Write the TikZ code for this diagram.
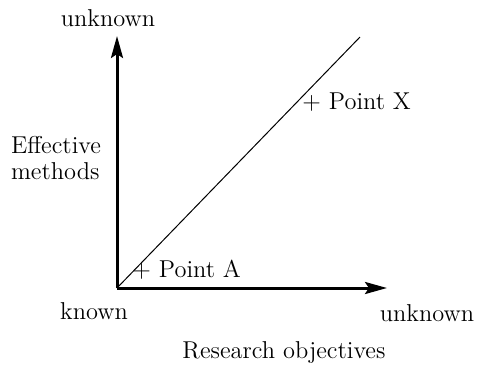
\documentclass[tikz,border=0pt]{standalone}
\usetikzlibrary{arrows.meta}
\begin{document}
\begin{tikzpicture}[x=0.5pt,y=-0.5pt,
  axis/.style={line width=1.5pt,-{Stealth[length=11pt,width=6pt,inset=2pt]}},
  lbl/.style={font=\fontsize{12.2}{13.2}\selectfont,inner sep=0pt},
  diag/.style={line width=0.5pt}]
\useasboundingbox (0,0) rectangle (477,365);
\coordinate (o) at (117,288);
\coordinate (ytop) at (117,36);
\coordinate (xend) at (387,288);
\coordinate (dend) at (360,37);
\draw[axis] (o) -- (ytop);
\draw[axis] (o) -- (xend);
\draw[diag] (o) -- (dend);
\node[lbl] (yu) at (108,18) {unknown};
\node[lbl,align=left] (em) at (56,158) {Effective\\methods};
\node[lbl] (kn) at (94,311) {known};
\node[lbl] (xu) at (427,313) {unknown};
\node[lbl] (ro) at (284,353) {Research objectives};
\node[lbl,anchor=west] (px) at (302,102) {+ Point X};
\node[lbl,anchor=west] (pa) at (132,270) {+ Point A};
\end{tikzpicture}
\end{document}
